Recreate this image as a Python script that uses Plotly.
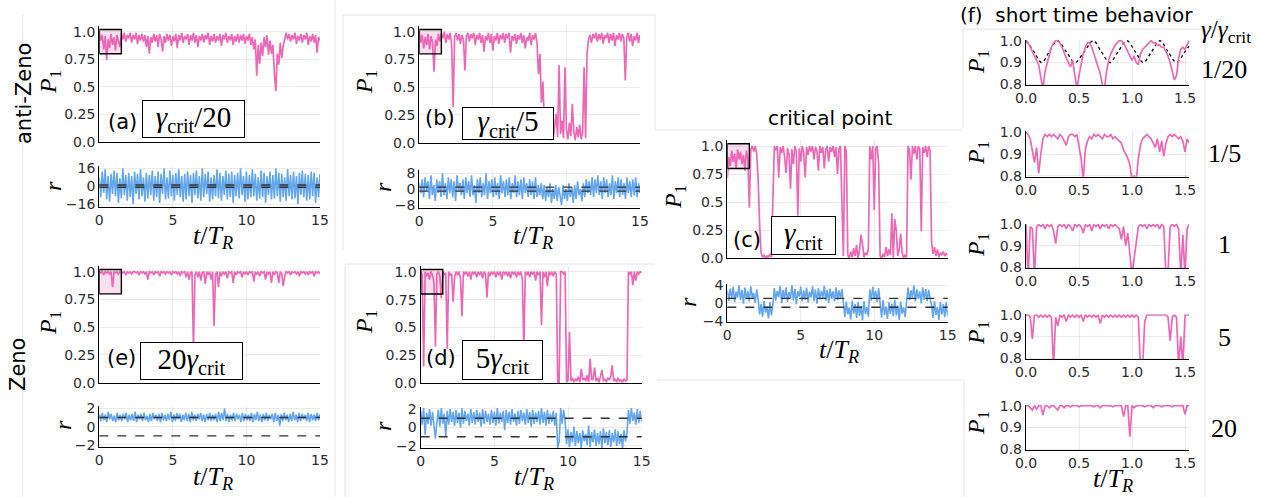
import numpy as np
import plotly.graph_objects as go

W, H = 1274, 497
PINK = "#EC68B6"
BLUE = "#64A6EC"
SERIF = "Liberation Serif"
SANS = "DejaVu Sans"

# ---------------- data ----------------
# P1 in hundredths, sampled every 0.1 T_R from 0 to 15
p1_a = [100,92,97,84,96,74,93,85,98,88,95,83,97,90,86,98,93,99,91,97,94,99,90,97,93,99,89,97,92,98,91,97,86,96,80,95,90,98,91,97,
        86,98,93,82,96,90,98,92,97,87,96,91,98,85,97,92,99,90,96,93,98,88,97,92,99,90,97,86,96,92,98,90,97,93,99,88,96,91,98,90,
        96,92,98,87,97,93,99,90,96,92,98,88,96,91,98,90,97,92,98,89,96,92,98,88,95,84,93,60,88,71,90,78,95,86,97,79,92,80,88,62,
        46,80,70,90,76,87,95,99,93,98,91,97,93,99,89,96,92,98,90,97,93,99,88,96,91,98,90,97,81,95,92]
p1_b = [100,90,97,85,95,88,98,84,96,90,64,93,87,98,91,99,94,100,90,98,93,99,88,32,95,99,92,98,89,97,93,65,96,99,91,98,94,99,88,97,
        93,99,90,97,82,96,92,99,90,98,83,96,92,99,89,97,93,99,90,98,94,99,81,96,92,98,89,97,93,99,90,97,85,95,92,99,88,97,93,99,
        90,62,80,36,55,18,30,4,12,2,10,3,15,26,5,70,8,20,4,68,12,3,18,6,35,10,2,14,5,16,3,9,68,4,80,93,97,90,98,94,
        99,91,98,93,99,89,97,94,99,90,98,92,99,87,97,93,99,91,98,94,56,95,99,91,98,87,96,92,99,90,97]
p1_c = [71,90,82,96,86,93,80,97,88,95,84,92,78,96,88,45,97,100,95,100,93,70,30,5,1,3,0,2,1,4,1,60,100,96,100,72,99,94,100,90,
        76,98,93,62,97,84,100,95,38,98,86,100,94,72,99,92,100,95,100,88,99,96,78,100,94,99,80,97,100,86,99,95,100,90,99,75,98,100,40,2,
        100,95,3,0,6,1,9,2,12,0,7,21,13,1,5,3,8,100,88,100,43,98,100,84,2,0,4,1,10,2,8,3,40,0,35,25,2,8,22,5,
        0,3,1,100,96,70,100,93,100,88,100,97,24,99,94,100,90,100,96,15,4,10,2,8,1,5,3,6,2,4,3]
p1_e = [100,99,100,97,100,99,100,98,100,86,100,99,100,98,100,100,99,100,97,100,99,100,98,100,100,99,100,97,100,99,100,98,100,93,100,99,100,97,100,99,
        100,96,100,99,100,98,100,99,100,97,100,99,100,98,100,96,100,99,100,95,100,93,99,100,31,97,100,95,100,92,99,100,89,100,97,100,93,100,51,98,
        100,86,100,96,100,98,100,94,100,99,100,90,100,97,100,99,100,95,100,98,100,97,100,99,100,91,100,98,100,96,100,99,100,93,100,98,100,90,100,97,
        100,99,90,100,98,87,96,100,99,100,97,100,99,100,98,100,96,100,99,100,98,100,97,100,99,100,96,100,99,100,98]
p1_d = [100,97,15,100,96,99,93,100,97,90,33,98,100,96,76,100,97,99,31,100,97,98,73,95,100,97,100,94,60,100,98,100,96,100,93,100,98,100,95,100,
        97,100,94,100,98,77,100,96,100,98,100,95,100,97,100,93,100,98,100,96,100,94,100,98,100,95,100,97,100,93,30,100,97,100,95,100,98,100,92,100,
        97,100,52,100,95,100,87,100,97,100,96,100,98,0,1,100,100,98,100,1,3,46,2,5,1,4,2,6,1,13,3,5,2,7,1,22,3,4,14,2,
        5,1,6,12,2,4,1,5,3,6,16,2,4,1,5,2,3,1,4,2,3,100,98,100,88,100,92,100,98,100,99]

# measurement record r, sampled every 0.1 T_R
r_a = [8,-10,13,-6,15,-12,9,-14,11,-7,14,-9,12,-15,7,-11,16,-8,10,-13,12,-10,9,-16,13,-7,11,-12,15,-9,8,-14,12,-11,10,-8,14,-13,9,-10,
       13,-15,11,-7,16,-12,8,-11,14,-9,10,-13,12,-8,15,-10,9,-14,11,-12,13,-9,10,-15,12,-8,14,-11,9,-13,16,-10,11,-7,13,-14,8,-12,10,-9,
       15,-11,12,-13,9,-8,14,-12,11,-10,13,-15,10,-9,12,-11,16,-8,9,-14,13,-12,10,-10,15,-9,11,-13,8,-11,14,-10,12,-15,9,-8,13,-12,10,-11,
       16,-9,12,-14,11,-10,8,-13,15,-9,10,-12,13,-11,9,-16,12,-8,14,-10,11,-13,10,-12,13,-9,12,-15,8,-10,11]
r_b = [3,-2,5,-4,6,-1,4,-5,7,-3,2,-6,5,-2,4,-4,8,-3,3,-5,6,-2,5,-4,4,-6,7,-1,3,-3,5,-5,6,-2,4,-4,7,-3,2,-7,
       5,-2,6,-4,3,-3,8,-5,4,-2,5,-4,6,-3,3,-5,7,-2,4,-4,5,-3,6,-5,3,-2,7,-4,4,-3,5,-5,6,-2,3,-4,5,-3,4,-5,
       6,-4,2,-3,3,-5,2,-6,1,-4,3,-7,0,-5,2,-6,1,-3,-8,2,-5,0,-6,3,-4,1,-7,2,-5,4,-3,0,-6,3,-4,5,-2,4,
       -3,6,-4,5,-2,7,-3,4,-5,6,-2,5,-4,3,-3,7,-5,4,-2,6,-4,5,-3,3,-5,6,-2,4,-4,5,-3,6,-4,3,-2]
r_c = [2.8,0.4,3.2,1.0,3.6,0.2,2.5,1.2,3.9,0.6,2.9,-0.2,3.4,0.9,2.6,0.3,3.7,1.1,2.2,0.0,3.0,0.8,
       -2.6,-0.2,-3.1,0.4,-2.2,-0.8,-3.5,0.1,-2.8,-0.5,
       3.3,0.5,2.7,1.3,3.8,-0.1,2.9,0.9,3.5,0.2,2.4,1.0,3.9,0.6,3.1,-0.3,2.6,1.4,3.6,0.3,2.8,0.7,3.4,0.1,
       2.5,1.2,3.7,0.4,3.0,-0.2,3.3,0.8,2.7,1.1,3.8,0.5,2.9,0.0,3.2,0.9,2.6,0.3,3.5,0.6,2.8,1.0,3.1,
       -0.6,-3.2,0.3,-2.6,-1.0,-3.7,0.5,-2.4,-0.3,-3.4,0.2,-2.9,-0.7,-3.9,0.4,-2.5,-0.9,-3.1,
       3.0,0.5,3.6,1.0,2.7,0.2,3.3,
       -0.4,-3.3,0.6,-2.7,-0.8,-3.6,0.1,-2.5,-0.2,-3.0,0.7,-2.8,-0.6,-3.8,0.3,-2.4,-1.0,-3.2,0.2,
       3.4,0.6,2.8,1.2,3.9,0.3,3.0,0.9,2.6,-0.1,3.5,0.7,3.1,0.4,2.9,1.0,
       -0.5,-3.4,0.4,-2.7,-0.9,-3.8,0.2,-2.6,-0.3,-3.2,0.1,-2.9]
r_e = [1.4,0.6,1.5,0.7,1.3,0.5,1.6,0.8,1.4,0.6,1.2,0.5,1.5,0.7,1.3,0.6,1.4,0.8,1.5,0.5,1.3,0.7,1.4,0.6,1.6,0.5,1.3,0.8,1.4,0.6,
       1.5,0.7,1.2,0.5,1.4,0.6,1.5,0.8,1.3,0.6,1.4,0.5,1.5,0.7,1.3,0.6,1.4,0.7,1.6,0.5,1.3,0.6,1.5,0.8,1.4,0.5,1.3,0.7,1.5,0.6,
       1.4,0.5,1.6,0.7,1.3,0.6,1.4,0.8,1.5,0.6,1.3,0.5,1.4,0.7,1.5,0.6,1.3,0.7,1.4,0.5,1.6,0.6,1.5,0.7,2.0,0.6,1.4,0.5,1.3,0.7,
       1.5,0.6,1.4,0.8,1.3,0.5,1.5,0.6,1.4,0.7,1.3,0.6,1.5,0.5,1.4,0.7,1.6,0.6,1.3,0.5,1.4,0.7,1.5,0.6,1.3,0.8,1.4,0.5,1.5,0.6,
       1.3,0.1,1.4,0.6,1.5,0.7,1.3,0.5,1.4,0.6,1.6,0.7,1.3,0.5,1.5,0.6,1.4,0.8,1.3,0.6,1.5,0.5,1.4,0.7,1.3,0.6,1.5,0.7,1.4]
r_d = [1.8,0.3,2.1,-0.8,1.6,0.4,2.0,0.2,1.7,0.5,-1.2,0.6,1.9,0.1,2.1,0.4,1.5,-1.0,1.8,0.3,2.0,0.6,1.7,0.2,1.9,0.5,1.6,0.0,2.1,0.4,
       1.8,0.7,1.5,0.2,2.0,0.5,1.7,0.3,1.9,0.6,1.6,0.1,2.0,0.4,1.8,0.6,1.5,0.3,1.9,0.5,1.7,0.2,2.1,0.4,1.6,0.6,1.8,-0.3,1.9,0.5,
       1.7,0.3,2.0,0.6,1.5,0.2,1.8,0.4,1.9,0.7,1.6,0.3,2.0,0.5,1.7,0.1,1.9,0.4,1.6,0.6,1.8,0.3,2.1,0.5,1.7,0.2,1.9,0.4,1.5,0.6,
       1.8,0.2,1.6,
       -2.2,-1.5,
       2.1,0.4,1.9,0.8,
       -1.8,-0.2,-2.1,-0.5,-1.6,0.1,-2.0,-0.4,-1.7,-0.6,-2.2,-0.3,-1.5,-0.7,-1.9,0.2,-2.1,-0.5,-1.6,-0.2,-2.0,-0.6,-1.8,-0.4,-2.2,
       -0.1,-1.7,-0.5,-1.9,-0.3,-2.1,-0.6,-1.6,-0.2,-2.0,-0.4,-1.8,-0.7,-2.2,-0.3,-1.5,-0.6,
       1.9,0.4,2.1,0.7,1.6,0.3,2.0,0.5,1.8,0.6]

# short time behaviour, P1 sampled every 0.02 T_R from 0 to 1.54
st_20th = [1.0,0.99,0.97,0.95,0.93,0.91,0.89,0.83,0.78,0.86,0.90,0.94,0.97,0.99,1.0,1.0,0.99,0.97,0.94,0.92,
           0.90,0.88,0.91,0.85,0.78,0.84,0.90,0.94,0.97,0.99,0.99,0.97,0.94,0.91,0.88,0.85,0.80,0.78,0.86,0.91,
           0.94,0.96,0.98,0.99,1.0,1.0,0.99,0.97,0.95,0.93,0.91,0.93,0.90,0.89,0.94,0.96,0.97,0.98,0.99,1.0,
           0.99,0.99,0.98,0.98,0.97,0.97,0.95,0.93,0.90,0.86,0.82,0.84,0.92,0.96,0.97,0.96,0.98,1.0]
st_5th = [1.0,0.99,0.97,0.92,0.86,0.93,0.81,0.90,0.97,0.99,0.98,0.99,0.98,0.99,0.98,0.97,0.99,0.98,0.96,0.94,
          0.98,0.99,0.99,0.98,0.99,0.93,0.88,0.78,0.92,0.96,0.98,0.97,0.99,0.98,0.99,0.98,0.97,0.99,0.98,0.98,
          0.99,0.97,0.98,0.97,0.96,0.95,0.92,0.90,0.88,0.85,0.78,0.80,0.78,0.88,0.94,0.97,0.98,0.99,0.98,0.97,
          0.95,0.93,0.97,0.91,0.96,0.89,0.95,0.98,0.99,0.98,0.99,0.98,0.97,0.98,0.96,0.91,0.97,0.95]
st_1 = [1.0,0.75,0.99,0.98,0.75,0.99,1.0,0.99,1.0,0.98,1.0,0.99,1.0,0.97,0.91,0.99,1.0,0.99,1.0,0.98,
        1.0,0.99,0.97,1.0,0.99,1.0,0.99,0.96,1.0,0.99,1.0,0.97,1.0,0.99,1.0,0.98,1.0,0.99,1.0,0.98,
        1.0,0.99,1.0,0.99,0.98,0.93,0.99,0.90,0.96,0.86,0.76,0.84,0.92,0.99,1.0,0.99,1.0,0.98,1.0,0.99,
        1.0,0.99,1.0,0.98,1.0,0.99,0.76,0.78,0.99,1.0,0.99,1.0,0.98,0.76,0.95,0.76,0.98,1.0]
st_5 = [1.0,1.0,0.99,0.89,1.0,1.0,0.99,1.0,0.99,1.0,0.99,1.0,0.99,0.76,0.99,0.95,1.0,0.99,1.0,0.97,
        1.0,0.99,1.0,0.99,1.0,0.99,1.0,0.97,1.0,0.99,1.0,0.99,1.0,0.99,1.0,0.96,1.0,0.99,1.0,0.99,
        1.0,0.99,1.0,0.99,1.0,0.99,1.0,0.99,1.0,0.99,1.0,0.99,1.0,0.99,0.76,0.76,0.97,1.0,1.0,1.0,
        1.0,1.0,1.0,1.0,1.0,1.0,1.0,0.99,0.88,0.99,1.0,0.99,0.76,0.90,0.76,1.0,1.0,1.0]
st_20 = [1.0,1.0,0.99,0.98,1.0,0.985,1.0,1.0,0.957,1.0,1.0,0.99,1.0,1.0,0.99,0.98,1.0,1.0,0.99,1.0,
         1.0,0.995,1.0,1.0,1.0,0.995,1.0,1.0,1.0,1.0,1.0,1.0,0.995,1.0,1.0,0.99,1.0,1.0,1.0,1.0,
         1.0,0.995,1.0,1.0,1.0,1.0,0.95,1.0,1.0,0.858,1.0,0.99,1.0,1.0,1.0,1.0,0.995,1.0,1.0,1.0,
         0.99,1.0,1.0,1.0,0.995,1.0,1.0,1.0,1.0,0.995,1.0,1.0,1.0,1.0,1.0,0.96,1.0,1.0]
# no-measurement (coherent) reference, dotted curve
dot_t = [0.0,0.074,0.148,0.22,0.295,0.38,0.462,0.55,0.635,0.71,0.79,0.87,0.95,1.03,1.107,1.185,1.264,1.34,1.42,1.50,1.54]
dot_p = [1.0,0.95,0.90,0.95,1.0,0.95,0.90,0.95,1.0,0.95,0.90,0.95,1.0,0.95,0.90,0.95,1.0,0.95,0.90,0.95,0.975]

T_MAX = 15.0
T_SHORT = 1.54
r_levels = [1, -1]
inset_t = [0.0, 1.5]
inset_p = [0.8, 1.02]
p1_ticks = [0.0, 0.25, 0.5, 0.75, 1.0]
p1_ticktext = ["0.0", "0.25", "0.5", "0.75", "1.0"]
t_ticks = [0, 5, 10, 15]
st_yticks = [0.8, 0.9, 1.0]
st_xticks = [0.0, 0.5, 1.0, 1.5]

# ---------------- helpers ----------------
def xd(px):
    return px / W

def yd(py):
    return 1 - py / H

def ydom(px_hi, v_hi, px_lo, v_lo, rmin, rmax):
    ppu = (px_lo - px_hi) / (v_hi - v_lo)
    top = px_hi - (rmax - v_hi) * ppu
    bot = px_lo + (v_lo - rmin) * ppu
    return [yd(bot), yd(top)]

def xdom(px0, v0, px1, v1, rmin, rmax):
    ppu = (px1 - px0) / (v1 - v0)
    left = px0 - (v0 - rmin) * ppu
    right = px1 + (rmax - v1) * ppu
    return [xd(left), xd(right)]

tickfont = dict(family=SANS, size=14, color="#2b2b2b")
ax_base = dict(showline=True, linecolor="black", linewidth=1.4, mirror=False, showgrid=True,
               gridcolor="rgba(0,0,0,0.08)", gridwidth=1, zeroline=False, ticks="",
               tickfont=tickfont, fixedrange=True, automargin=False)

fig = go.Figure()
layout = dict(width=W, height=H, margin=dict(l=0, r=0, t=0, b=0, pad=0, autoexpand=False),
              paper_bgcolor="white", plot_bgcolor="white", showlegend=False, template="none")
shapes = []
annotations = []

def ann(text, x, y, size, family=SANS, angle=0, **kw):
    d = dict(text=text, x=xd(x), y=yd(y), xref="paper", yref="paper", showarrow=False,
             xanchor="center", yanchor="middle", textangle=angle,
             font=dict(family=family, size=size, color="black"))
    d.update(kw)
    annotations.append(d)

P_LABEL = "<i>P</i><sub>1</sub>"
T_LABEL = "<i>t</i>/<i>T</i><sub><i>R</i></sub>"

panels = [
    dict(p1=p1_a, r=r_a, x0=99.3, x1=320, p_hi=31.7, p_lo=141.7, r_hi=168.3, r_lo=204, rt=16, rr=18.4,
         tag="(a)", tagxy=(122, 122), box="<i>γ</i><sub>crit</sub>/20", boxc=(193.4, 119.2), boxwh=(103, 38),
         plab=(50, 82), rlab=(53, 186), tlab=(213, 237)),
    dict(p1=p1_b, r=r_b, x0=419.3, x1=640, p_hi=31.7, p_lo=142.7, r_hi=173.3, r_lo=205, rt=8, rr=9.6,
         tag="(b)", tagxy=(440, 118), box="<i>γ</i><sub>crit</sub>/5", boxc=(508, 123.3), boxwh=(92, 33),
         plab=(366, 82), rlab=(383, 187), tlab=(533, 237)),
    dict(p1=p1_c, r=r_c, x0=727.3, x1=947.7, p_hi=146, p_lo=258.3, r_hi=285, r_lo=320.7, rt=4, rr=4.3,
         tag="(c)", tagxy=(747, 240), box="<i>γ</i><sub>crit</sub>", boxc=(803, 235.5), boxwh=(65, 39),
         plab=(675, 197), rlab=(688, 302), tlab=(839, 351)),
    dict(p1=p1_e, r=r_e, x0=99.3, x1=320, p_hi=271.7, p_lo=382.7, r_hi=408.3, r_lo=445, rt=2, rr=2.25,
         tag="(e)", tagxy=(121, 358), box="20<i>γ</i><sub>crit</sub>", boxc=(191.7, 360.8), boxwh=(103, 38),
         plab=(50, 323), rlab=(63, 425), tlab=(213, 478)),
    dict(p1=p1_d, r=r_d, x0=420.7, x1=641.7, p_hi=271.7, p_lo=383.3, r_hi=409, r_lo=446, rt=2, rr=2.25,
         tag="(d)", tagxy=(441, 358), box="5<i>γ</i><sub>crit</sub>", boxc=(502, 360), boxwh=(81, 40),
         plab=(366, 322), rlab=(383, 426), tlab=(534, 478)),
]

P_MAX = 1.05
for i, pn in enumerate(panels):
    na, nb = 2 * i + 1, 2 * i + 2
    sa = "" if na == 1 else str(na)
    sb = str(nb)
    xdm = xdom(pn["x0"], 0, pn["x1"], T_MAX, 0, T_MAX)
    # P1 panel
    layout["xaxis" + sa] = dict(ax_base, domain=xdm, range=[0, T_MAX], anchor="y" + sa,
                                tickvals=t_ticks, showticklabels=False)
    layout["yaxis" + sa] = dict(ax_base, domain=ydom(pn["p_hi"], 1.0, pn["p_lo"], 0.0, 0.0, P_MAX),
                                range=[0, P_MAX], anchor="x" + sa, tickvals=p1_ticks, ticktext=p1_ticktext)
    t1 = np.linspace(0, T_MAX, len(pn["p1"]))
    fig.add_trace(go.Scatter(x=t1, y=np.array(pn["p1"]) / 100.0, mode="lines",
                             line=dict(color=PINK, width=1.7), xaxis="x" + sa, yaxis="y" + sa,
                             hoverinfo="skip"))
    shapes.append(dict(type="rect", xref="x" + sa, yref="y" + sa, x0=inset_t[0], x1=inset_t[1],
                       y0=inset_p[0], y1=inset_p[1], fillcolor="rgba(236,104,182,0.22)",
                       line=dict(color="black", width=1.4), layer="above"))
    # r panel
    rt, rr = pn["rt"], pn["rr"]
    layout["xaxis" + sb] = dict(ax_base, domain=xdm, range=[0, T_MAX], anchor="y" + sb,
                                tickvals=t_ticks, ticktext=[str(v) for v in t_ticks])
    layout["yaxis" + sb] = dict(ax_base, domain=ydom(pn["r_hi"], rt, pn["r_lo"], -rt, -rr, rr),
                                range=[-rr, rr], anchor="x" + sb, tickvals=[-rt, 0, rt],
                                ticktext=["\u2212%d" % rt, "0", "%d" % rt])
    t2 = np.linspace(0, T_MAX, len(pn["r"]))
    fig.add_trace(go.Scatter(x=t2, y=pn["r"], mode="lines", line=dict(color=BLUE, width=1.6),
                             xaxis="x" + sb, yaxis="y" + sb, hoverinfo="skip"))
    for lv in r_levels:
        shapes.append(dict(type="line", xref="x" + sb + " domain", yref="y" + sb, x0=0, x1=1,
                           y0=lv, y1=lv, line=dict(color="#333", width=1.4, dash="dash"), layer="above"))
    # labels
    ann(pn["tag"], pn["tagxy"][0], pn["tagxy"][1], 21)
    bw, bh = pn["boxwh"]
    ann(pn["box"], pn["boxc"][0], pn["boxc"][1], 29, family=SERIF, bordercolor="black", borderwidth=1,
        borderpad=1, bgcolor="white", width=bw - 4, height=bh - 4, align="center", valign="middle")
    ann(P_LABEL, pn["plab"][0], pn["plab"][1], 24, family=SERIF, angle=-90)
    ann("<i>r</i>", pn["rlab"][0], pn["rlab"][1], 24, family=SERIF, angle=-90)
    ann(T_LABEL, pn["tlab"][0], pn["tlab"][1], 26, family=SERIF)

# short-time panels
short = [
    dict(y=st_20th, p_hi=40.7, p_lo=84.3, lab="1/20", laby=69, plaby=62),
    dict(y=st_5th, p_hi=132.3, p_lo=175.7, lab="1/5", laby=153, plaby=153),
    dict(y=st_1, p_hi=224.5, p_lo=267.0, lab="1", laby=244, plaby=245),
    dict(y=st_5, p_hi=315.0, p_lo=358.3, lab="5", laby=337, plaby=333),
    dict(y=st_20, p_hi=405.7, p_lo=449.3, lab="20", laby=428, plaby=423),
]
SXR = [0, T_SHORT]
SYR = [0.795, 1.004]
for j, sp in enumerate(short):
    n = str(11 + j)
    layout["xaxis" + n] = dict(ax_base, domain=xdom(1026, 0.0, 1185, 1.5, SXR[0], SXR[1]), range=SXR,
                               anchor="y" + n, tickvals=st_xticks,
                               ticktext=["%.1f" % v for v in st_xticks])
    layout["yaxis" + n] = dict(ax_base, domain=ydom(sp["p_hi"], 1.0, sp["p_lo"], 0.8, SYR[0], SYR[1]),
                               range=SYR, anchor="x" + n, tickvals=st_yticks,
                               ticktext=["%.1f" % v for v in st_yticks])
    ts = np.linspace(0, T_SHORT, len(sp["y"]))
    if j == 0:
        fig.add_trace(go.Scatter(x=dot_t, y=dot_p, mode="lines", line=dict(color="black", width=1.3,
                                 dash="dot", shape="spline"), xaxis="x" + n, yaxis="y" + n,
                                 hoverinfo="skip"))
    fig.add_trace(go.Scatter(x=ts, y=sp["y"], mode="lines", line=dict(color=PINK, width=1.7),
                             xaxis="x" + n, yaxis="y" + n, hoverinfo="skip", cliponaxis=True))
    ann(sp["lab"], 1224, sp["laby"], 26, family=SERIF)
    ann(P_LABEL, 978, sp["plaby"], 24, family=SERIF, angle=-90)

ann(T_LABEL, 1113, 480, 26, family=SERIF)
ann("<i>γ</i>/<i>γ</i><sub>crit</sub>", 1226, 32, 25, family=SERIF)
ann("(f)  short time behavior", 1076, 15, 20)
ann("critical point", 830, 118, 20)
ann("anti-Zeno", 24, 93, 21, angle=-90)
ann("Zeno", 18, 365, 21, angle=-90)

# faint composite frames
FR = dict(color="#e4e4e4", width=1)
def pline(x0, y0, x1, y1):
    shapes.append(dict(type="line", xref="paper", yref="paper", x0=xd(x0), y0=yd(y0), x1=xd(x1), y1=yd(y1),
                       line=FR, layer="below"))
pline(22.7, 15, 22.7, 497)
pline(335, 0, 335, 497)
pline(343, 15, 655, 15)
pline(343, 15, 343, 250)
pline(655, 15, 655, 130)
pline(655, 130, 962, 130)
pline(345, 264, 345, 497)
pline(345, 264, 655, 264)
pline(657, 380, 962, 380)
pline(963, 29, 1205, 29)
pline(963, 29, 963, 128)
pline(1205, 29, 1205, 497)
pline(964, 380, 964, 497)

layout["shapes"] = shapes
layout["annotations"] = annotations
fig.update_layout(**layout)
fig.write_html("out.html")
